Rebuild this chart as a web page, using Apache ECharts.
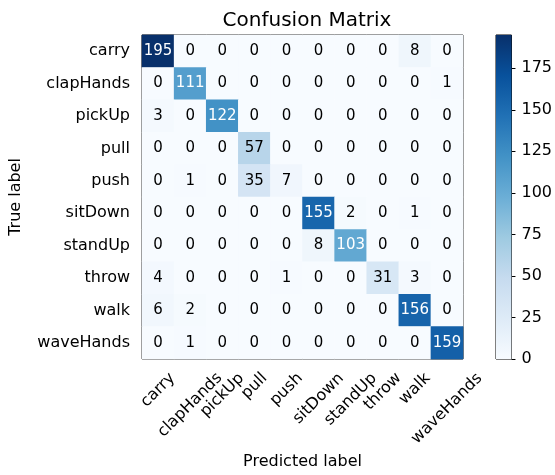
<!DOCTYPE html>
<html><head><meta charset="utf-8">
<script src="https://cdn.jsdelivr.net/npm/echarts@6/dist/echarts.min.js"></script>
<style>html,body{margin:0;padding:0;background:#fff}#c{width:555px;height:475px}</style>
</head><body><div id="c"></div>
<script>
const classes = ['carry','clapHands','pickUp','pull','push','sitDown','standUp','throw','walk','waveHands'];
const matrix = [
  [195,0,0,0,0,0,0,0,8,0],
  [0,111,0,0,0,0,0,0,0,1],
  [3,0,122,0,0,0,0,0,0,0],
  [0,0,0,57,0,0,0,0,0,0],
  [0,1,0,35,7,0,0,0,0,0],
  [0,0,0,0,0,155,2,0,1,0],
  [0,0,0,0,0,8,103,0,0,0],
  [4,0,0,0,1,0,0,31,3,0],
  [6,2,0,0,0,0,0,0,156,0],
  [0,1,0,0,0,0,0,0,0,159]
];
const colorbarTicks = [0,25,50,75,100,125,150,175];
const vmin = 0, vmax = 195;
const blues = ['#f7fbff','#deebf7','#c6dbef','#9ecae1','#6baed6','#4292c6','#2171b5','#08519c','#08306b'];

const font = 'DejaVu Sans';
const tickSize = 16;
const thresh = vmax / 2;
const data = [];
matrix.forEach((row, i) => row.forEach((v, j) => {
  data.push({value: [j, i, v], label: {color: v > thresh ? '#ffffff' : '#000000'}});
}));

// center rotated x labels on their ticks (matplotlib ha='center')
const ctx = document.createElement('canvas').getContext('2d');
ctx.font = tickSize + 'px "' + font + '"';
const lineH = tickSize * 1.17;
const rich = {};
classes.forEach((c, i) => {
  const w = ctx.measureText(c).width;
  const P = Math.round((w + lineH) / 2);
  rich['l' + i] = {fontFamily: font, fontSize: tickSize, color: '#000', padding: [P, P, 0, 0]};
});

const chart = echarts.init(document.getElementById('c'), null, {renderer: 'canvas'});
chart.setOption({
  animation: false,
  textStyle: {fontFamily: font},
  title: {text: 'Confusion Matrix', left: 302, top: 6, textAlign: 'center',
    textStyle: {fontFamily: font, fontSize: 20, fontWeight: 'normal', color: '#000'}},
  grid: [
    {left: 141, top: 35, width: 322, height: 324, show: true, borderColor: '#000', borderWidth: 1, backgroundColor: 'transparent'},
    {left: 496, top: 35, width: 16, height: 324, show: true, borderColor: '#000', borderWidth: 1, backgroundColor: 'transparent'}
  ],
  xAxis: [
    {type: 'category', gridIndex: 0, data: classes, name: 'Predicted label', nameLocation: 'middle', nameGap: 95,
      nameTextStyle: {fontFamily: font, fontSize: tickSize, color: '#000'},
      axisLine: {show: false}, axisTick: {alignWithLabel: true, length: 5, lineStyle: {color: '#000'}},
      axisLabel: {rotate: 45, align: 'center', verticalAlign: 'middle', fontFamily: font, fontSize: tickSize, color: '#000', margin: 10, interval: 0,
        hideOverlap: false,
        formatter: (v, idx) => '{l' + idx + '|' + v + '}', rich: rich},
      splitLine: {show: false}},
    {type: 'category', gridIndex: 1, data: ['cb'], show: false}
  ],
  yAxis: [
    {type: 'category', gridIndex: 0, data: classes, inverse: true, name: 'True label', nameLocation: 'middle', nameGap: 118,
      nameTextStyle: {fontFamily: font, fontSize: tickSize, color: '#000'},
      axisLine: {show: false}, axisTick: {alignWithLabel: true, length: 5, lineStyle: {color: '#000'}},
      axisLabel: {fontFamily: font, fontSize: tickSize, color: '#000', margin: 12, interval: 0},
      splitLine: {show: false}},
    {type: 'value', gridIndex: 1, min: vmin, max: vmax, interval: 25, position: 'right',
      axisLine: {show: false}, axisTick: {show: true, length: 4, lineStyle: {color: '#000'}},
      axisLabel: {fontFamily: font, fontSize: tickSize, color: '#000', margin: 10, showMaxLabel: false},
      splitLine: {show: false}}
  ],
  visualMap: {show: false, type: 'continuous', min: vmin, max: vmax, seriesIndex: 0, dimension: 2,
    inRange: {color: blues}},
  series: [
    {type: 'heatmap', xAxisIndex: 0, yAxisIndex: 0, data: data,
      label: {show: true, fontFamily: font, fontSize: 15},
      itemStyle: {borderWidth: 0}, emphasis: {disabled: true}},
    {type: 'bar', xAxisIndex: 1, yAxisIndex: 1, data: [vmax], barWidth: '100%', silent: true,
      itemStyle: {color: new echarts.graphic.LinearGradient(0, 1, 0, 0,
        blues.map((c, k) => ({offset: k / (blues.length - 1), color: c})))}}
  ]
});
</script></body></html>
